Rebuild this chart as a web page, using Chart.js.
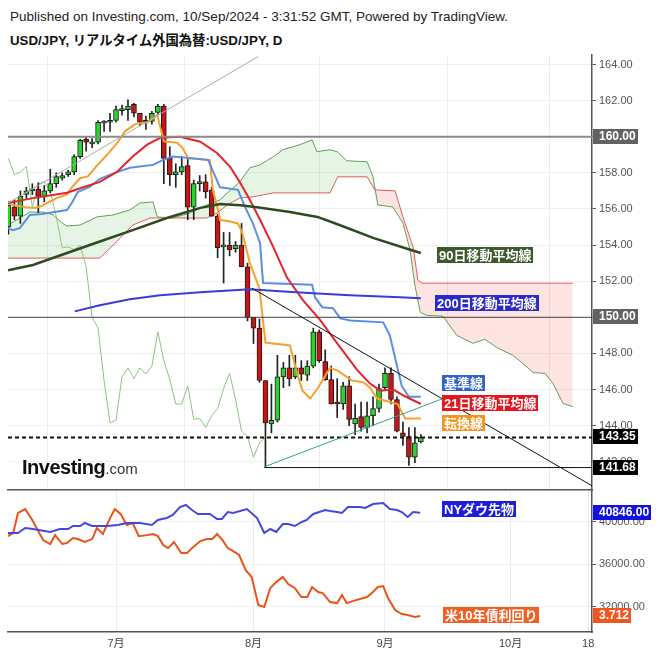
<!DOCTYPE html>
<html>
<head>
<meta charset="utf-8">
<script src="https://cdn.jsdelivr.net/npm/chart.js"></script>
<style>
body { margin: 0; background: #fff; }
#wrap { position: relative; width: 656px; height: 656px; overflow: hidden; font-family: 'Liberation Sans', 'Noto Sans CJK JP', Arial, sans-serif; }
.h1 { position: absolute; left: 10px; top: 9px; font-size: 13.5px; color: #222; white-space: nowrap; }
.h2 { position: absolute; left: 10px; top: 30px; font-size: 13.3px; font-weight: bold; color: #111; white-space: nowrap; }
canvas { position: absolute; left: 0; }
#logo { position: absolute; left: 22px; top: 456px; font-size: 20px; font-weight: bold; color: #111; letter-spacing: -0.5px; white-space: nowrap; }
#logo span { font-size: 15px; font-weight: normal; color: #333; letter-spacing: 0; }
</style>
</head>
<body>
<div id="wrap">
  <div class="h1">Published on Investing.com, 10/Sep/2024 - 3:31:52 GMT, Powered by TradingView.</div>
  <div class="h2">USD/JPY, リアルタイム外国為替:USD/JPY, D</div>
  <canvas id="main" width="656" height="491" style="top:0"></canvas>
  <canvas id="sub" width="656" height="166" style="top:490px"></canvas>
  <div id="logo">Investing<span>.com</span></div>
</div>
<script>
// x = trading days counted from 1 July 2024
const firstIdx = -18;
const dates = ['06-05','06-06','06-07','06-10','06-11','06-12','06-13','06-14','06-17','06-18','06-19','06-20','06-21','06-24','06-25','06-26','06-27','06-28',
  '07-01','07-02','07-03','07-04','07-05','07-08','07-09','07-10','07-11','07-12','07-15','07-16','07-17','07-18','07-19','07-22','07-23','07-24','07-25','07-26','07-29','07-30','07-31',
  '08-01','08-02','08-05','08-06','08-07','08-08','08-09','08-12','08-13','08-14','08-15','08-16','08-19','08-20','08-21','08-22','08-23','08-26','08-27','08-28','08-29','08-30',
  '09-02','09-03','09-04','09-05','09-06','09-09','09-10'];
const opens = [155.0,156.1,155.6,156.8,157.0,157.1,156.7,157.0,157.4,157.7,157.9,158.05,158.9,159.85,159.6,159.7,160.75,160.8,
  160.9,161.45,161.5,161.8,161.3,160.85,160.85,161.35,161.7,158.8,157.9,158.05,158.4,156.1,157.4,157.5,157.05,155.6,153.9,154.0,153.8,154.0,152.8,
  150.0,149.4,146.5,144.1,144.3,146.7,147.2,146.7,147.2,146.8,147.3,149.2,147.55,146.55,145.25,145.2,146.2,144.1,144.5,143.9,144.55,144.95,
  146.1,146.9,145.45,143.6,143.4,142.25,143.1];
const highs = [156.4,156.5,157.0,157.2,157.4,157.45,157.3,158.2,158.0,158.0,158.15,159.0,159.85,160.0,159.9,160.9,160.9,161.3,
  161.7,161.75,162.05,161.85,161.3,161.15,161.4,161.8,161.8,159.45,158.5,158.9,158.8,157.6,157.85,157.9,157.2,155.7,154.7,154.7,154.2,155.2,153.0,
  150.0,149.9,146.5,146.3,147.9,147.5,147.9,147.9,147.6,147.6,149.4,149.3,148.2,147.3,146.6,146.4,146.7,145.2,145.3,145.3,145.6,146.3,
  147.2,147.2,145.6,144.2,143.9,143.9,143.5];
const lows = [154.6,155.4,155.2,156.6,156.8,155.8,156.4,156.9,157.2,157.6,157.8,157.9,158.8,159.2,159.4,159.6,160.3,160.3,
  160.8,161.2,160.9,161.1,160.6,160.4,160.7,161.2,157.4,157.3,157.2,157.9,155.4,155.4,157.0,156.6,155.6,153.3,151.9,153.4,153.6,152.8,149.8,
  148.55,146.4,141.68,143.6,144.2,146.1,146.2,146.6,146.5,146.5,147.2,147.5,146.5,145.2,144.45,144.9,144.0,143.5,143.7,143.6,144.0,144.75,
  146.0,145.2,143.65,142.9,141.8,141.95,143.05];
const closes = [156.2,155.6,156.7,157.0,157.1,156.7,157.0,157.4,157.8,157.85,158.05,158.9,159.8,159.7,159.7,160.8,160.8,160.9,
  161.5,161.5,161.7,161.3,160.8,160.8,161.3,161.7,158.8,157.9,158.05,158.35,156.1,157.4,157.5,156.95,155.6,153.85,153.9,153.75,154.0,152.8,150.0,
  149.4,146.5,144.15,144.3,146.7,147.2,146.6,147.2,146.85,147.3,149.2,147.6,146.55,145.2,145.2,146.2,144.35,144.4,143.9,144.55,144.95,146.05,
  146.9,145.45,143.7,143.4,142.25,143.05,143.35];

// indicator lines: [trading day, value]
const tenkan = [[-18.07,156.28],[-15.2,156.1],[-13.6,156.05],[-12.4,156.17],[-11.1,156.4],[-9.9,156.6],[-8.2,156.8],[-7.4,157.2],[-6.0,157.7],[-4.7,157.8],[-3.2,158.4],[-1.5,159.0],[0.3,159.7],[1.5,160.3],[3.2,160.7],[5.2,160.8],[6.9,161.2],[8.0,159.75],[10.2,159.67],[11.1,159.4],[12.1,158.8],[12.9,158.8],[15.7,158.7],[16.2,157.05],[17.1,155.9],[17.4,155.4],[19.1,155.3],[20.4,155.2],[21.1,154.7],[22.4,153.0],[24,151.6],[25,148.6],[29.1,148.44],[30.3,146.9],[31.2,145.94],[32.5,145.5],[33.8,146.1],[35.8,147.2],[37.0,147.06],[39.5,146.5],[41.4,146.4],[42.5,146.1],[43.7,145.5],[47.1,145.2],[48.4,144.4],[51,144.4]];
const kijun = [[-18.07,154.94],[-17.3,154.83],[-16.1,154.94],[-14.4,155.67],[-12.4,155.72],[-8.2,155.94],[-7.4,156.33],[-6.4,156.94],[-4.4,157.22],[-2.7,157.67],[-0.2,158.0],[2.3,158.28],[6.2,158.44],[7.9,158.72],[9.5,158.9],[15.4,158.72],[17.4,157.2],[20.4,157.06],[21.6,156.1],[22.9,155.2],[24.1,154.1],[24.6,151.9],[32.8,151.8],[33.3,151.1],[34.5,150.56],[36.3,150.5],[37.5,149.94],[39.2,149.83],[44.7,149.72],[45.8,149.0],[46.8,147.6],[47.8,146.2],[49.0,145.6],[51,145.6]];
const ma21 = [[-18.07,156.33],[-13.9,156.6],[-8.2,156.9],[-5.5,157.2],[-2.7,157.5],[0.2,158.06],[2.8,158.9],[5.2,159.56],[7.4,159.94],[10.7,160.0],[14.1,159.72],[16.9,159.1],[19.1,158.33],[20.8,157.44],[22.4,156.5],[24.1,155.4],[26.3,153.9],[28.6,152.2],[31.3,150.94],[34.2,149.83],[37.0,148.56],[40.4,147.06],[42.5,146.33],[44.2,145.94],[46.4,146.0],[48.1,145.67],[51,145.2]];
const ma90 = [[-18.07,152.6],[-13.9,152.9],[-8.2,153.56],[-2.7,154.2],[2.8,154.83],[8.5,155.5],[14.1,156.06],[17.4,156.28],[20.8,156.2],[23.6,156.1],[29.1,155.83],[33.7,155.56],[37.5,155.1],[43.0,154.4],[48.7,153.8],[51,153.56]];
const ma200 = [[-6.9,150.33],[-2.7,150.67],[2.3,151.0],[7.4,151.22],[14.1,151.39],[22.4,151.56],[27.4,151.44],[33.0,151.33],[39.1,151.22],[47.5,151.11],[51,151.06]];
const spanA = [[-18.07,155.11],[-14.4,155.83],[-12.2,155.83],[-10.5,155.67],[-9.0,155.22],[-8.2,155.06],[-6.0,155.11],[-3.2,155.56],[-0.5,155.67],[2.3,155.94],[4.0,156.33],[6.2,156.39],[6.9,155.56],[9.5,155.5],[12.4,155.78],[15.2,156.22],[17.4,156.5],[18.6,156.89],[20.7,157.5],[22.4,158.28],[24.1,158.44],[26.3,158.89],[27.9,159.28],[30.8,159.56],[32.8,159.83],[33.6,159.17],[35.8,159.28],[37.0,159.17],[38.6,158.67],[42.0,158.61],[43.0,157.78],[43.8,156.22],[46.3,156.11],[48.0,155.22],[49.2,153.72],[50.0,151.78],[50.9,150.28],[52.0,150.11],[54.7,150.06],[57.0,149.0],[59.7,148.56],[61.7,148.78],[63.7,148.33],[66.4,147.89],[68.1,147.44],[69.8,146.94],[71.8,146.89],[73.1,146.33],[74.8,145.22],[76.4,145.06]];
const spanB = [[-18.07,153.28],[-2.7,153.28],[-1.0,153.83],[0.7,154.39],[2.8,155.11],[5.7,155.5],[15.2,155.5],[16.9,155.78],[18.6,156.22],[20.7,156.61],[22.9,156.67],[26.3,156.89],[35.8,156.89],[37.1,157.78],[42.0,157.78],[43.3,157.06],[46.7,157.0],[48.0,155.56],[49.7,153.89],[50.5,152.06],[51.2,151.89],[76.4,151.89]];
const chikouShift = 26;

// drawn lines
const greyTrend = [[-18.07,156.33],[23.8,164.44]];
const blackTrend = [[22.75,151.61],[79.63,140.67]];
const tealTrend = [[24.8,141.72],[54.7,145.5]];
const level160 = 160, level150 = 150, lastPrice = 143.35, lowLevel = 141.68;

// lower panel
const dow = [[-18.1,38936],[-16.4,38936],[-15.2,39407],[-13.9,39313],[-11.0,39031],[-9.4,39313],[-8.0,39313],[-7.2,39595],[-6.0,39595],[-5.2,39878],[-4.0,39595],[-1.5,39595],[0.3,39689],[1.8,39878],[4.0,39878],[6.0,39689],[7.0,40160],[8.5,40348],[9.5,40631],[10.7,41384],[11.7,41572],[12.7,41101],[13.7,40725],[15.7,40725],[16.9,40254],[17.7,40254],[18.7,40913],[19.6,40819],[21.9,41195],[23.6,40348],[24.8,38936],[25.8,39313],[26.8,39031],[27.9,39784],[28.8,39784],[29.9,39595],[31.1,39972],[31.9,40160],[33.0,40725],[35.0,41101],[35.8,41007],[37.0,40913],[37.8,40819],[38.8,41384],[40.8,41384],[41.7,41290],[43.0,41666],[44.7,41760],[45.8,41195],[47.0,41101],[47.8,40913],[48.8,40442],[49.7,40913],[50.9,40846]];
const us10y = [[-18.1,4.279],[-17.2,4.301],[-16.4,4.443],[-15.2,4.471],[-14.1,4.400],[-12.2,4.251],[-11.0,4.223],[-10.2,4.286],[-9.0,4.223],[-8.2,4.230],[-7.2,4.265],[-6.4,4.258],[-5.2,4.237],[-4.0,4.258],[-3.2,4.336],[-2.2,4.294],[-1.0,4.407],[-0.2,4.471],[0.8,4.435],[1.8,4.357],[2.8,4.372],[3.8,4.279],[5.2,4.286],[6.2,4.294],[7.0,4.279],[7.9,4.216],[8.7,4.194],[9.7,4.237],[10.9,4.159],[11.9,4.159],[12.9,4.201],[14.1,4.244],[15.2,4.258],[16.1,4.258],[16.9,4.294],[17.7,4.258],[18.7,4.194],[19.6,4.173],[20.6,4.145],[21.7,4.038],[22.7,3.989],[23.8,3.790],[24.8,3.776],[25.8,3.911],[26.8,3.953],[27.9,3.989],[28.8,3.939],[29.9,3.911],[31.0,3.847],[32.0,3.847],[32.8,3.918],[33.8,3.882],[34.6,3.875],[35.8,3.811],[37.0,3.804],[37.8,3.861],[38.6,3.804],[39.6,3.818],[40.8,3.833],[42.0,3.847],[42.8,3.875],[43.8,3.918],[44.7,3.925],[45.5,3.840],[46.7,3.755],[47.8,3.726],[48.8,3.719],[50.0,3.705],[50.9,3.712]];

const monthTicks = [0, 23, 45, 66, 79];
const monthLabels = ['7月', '8月', '9月', '10月', '18'];
const priceTicks = [142, 144, 146, 148, 150, 152, 154, 156, 158, 160, 162, 164];
const dowTicks = [32000, 36000, 40000];

const FONT = "'Liberation Sans', 'Noto Sans CJK JP', Arial, sans-serif";
Chart.defaults.font.family = FONT;
Chart.defaults.font.size = 11;
Chart.defaults.color = '#555';

const X_MIN = -18.07, X_MAX = 79.63;

function pts(arr) { return arr.map(p => ({ x: p[0], y: p[1] })); }
function line(data, color, width, order, extra) {
  return Object.assign({ type: 'line', data: pts(data), borderColor: color, borderWidth: width,
    pointRadius: 0, tension: 0, fill: false, order: order }, extra || {});
}
// keep the plot area where the layout padding puts it
function noPad(s) { s.paddingTop = 0; s.paddingBottom = 0; s.paddingLeft = 0; s.paddingRight = 0; }

// draws the coloured name tags and the price boxes
const tagsPlugin = {
  id: 'tags',
  afterDraw(chart, args, opts) {
    const ctx = chart.ctx;
    ctx.save();
    ctx.textBaseline = 'middle';
    (opts.inner || []).forEach(t => {
      const x = Math.round(chart.scales.x.getPixelForValue(t.at));
      const y = Math.round(chart.scales[t.axis].getPixelForValue(t.value));
      ctx.font = 'bold 13px ' + FONT;
      const w = Math.round(ctx.measureText(t.text).width + 4);
      ctx.fillStyle = t.bg;
      ctx.fillRect(x, y - 8, w, 16);
      ctx.fillStyle = '#fff';
      ctx.fillText(t.text, x + 2, y + 1);
    });
    (opts.right || []).forEach(t => {
      const x = chart.chartArea.right + 1;
      const y = Math.round(chart.scales[t.axis].getPixelForValue(t.value));
      ctx.font = 'bold 12px ' + FONT;
      const w = Math.round(ctx.measureText(t.text).width + 8);
      ctx.fillStyle = t.bg;
      ctx.fillRect(x, y - 8, w, 15);
      ctx.fillStyle = '#fff';
      ctx.fillText(t.text, x + 6, y);
    });
    ctx.restore();
  }
};

const idx = closes.map((c, k) => firstIdx + k);
const candleCols = closes.map((c, k) => c >= opens[k] ? '#2bd22b' : '#c91414');
const chikou = [];
closes.forEach((c, k) => { if (idx[k] - chikouShift >= firstIdx) chikou.push([idx[k] - chikouShift, c]); });

const xMain = {
  type: 'linear', min: X_MIN, max: X_MAX, offset: false,
  afterBuildTicks: s => { s.ticks = monthTicks.map(v => ({ value: v })); },
  ticks: { display: false },
  grid: { color: '#ececec', drawTicks: false },
  border: { display: true, color: '#555', width: 1.5 },
  afterFit: s => { s.height = 0; noPad(s); }
};

new Chart(document.getElementById('main'), {
  type: 'line',
  data: {
    datasets: [
      line(spanB, '#d9605c', 1, 6),
      line(spanA, '#5fa152', 1, 6, { fill: { target: 0, above: 'rgba(76,175,80,0.14)', below: 'rgba(244,67,54,0.15)' } }),
      line(chikou, '#8cc57c', 1, 5),
      { type: 'bar', data: idx.map((x, k) => ({ x: x, y: [lows[k], highs[k]] })), backgroundColor: '#222',
        barThickness: 1, grouped: false, order: 4 },
      { type: 'bar', data: idx.map((x, k) => ({ x: x, y: [opens[k], closes[k]] })), backgroundColor: candleCols,
        borderColor: '#1b1b1b', borderWidth: 1, borderSkipped: false, barThickness: 5, minBarLength: 2,
        grouped: false, order: 3 },
      line(ma200, '#3b3bdb', 2, 2),
      line(ma90, '#2e4b1f', 2.5, 2),
      line(ma21, '#e3242b', 2, 2),
      line(kijun, '#5b8fe4', 2, 2),
      line(tenkan, '#f6a030', 2, 2),
      line(greyTrend, '#aaaaaa', 1, 1),
      line(blackTrend, '#111', 1, 1),
      line(tealTrend, '#3a9f94', 1, 1),
      line([[X_MIN, level160], [X_MAX, level160]], '#8a8a8a', 2, 1),
      line([[X_MIN, level150], [X_MAX, level150]], '#444', 1, 1),
      line([[X_MIN, lastPrice], [X_MAX, lastPrice]], '#111', 2, 1, { borderDash: [4, 3] }),
      line([[24.8, lowLevel], [X_MAX, lowLevel]], '#111', 1, 1)
    ]
  },
  options: {
    responsive: false, animation: false, events: [],
    layout: { padding: { left: 8, top: 55, right: 0, bottom: 1 } },
    scales: {
      x: xMain,
      y: {
        position: 'right', min: 140.437, max: 164.526,
        afterBuildTicks: s => { s.ticks = priceTicks.map(v => ({ value: v })); },
        ticks: { callback: v => v.toFixed(2), padding: 3, color: '#555' },
        grid: { color: '#efefef', tickLength: 4, tickColor: '#555' },
        border: { color: '#555', width: 1.5 },
        afterFit: s => { s.width = 64; noPad(s); }
      }
    },
    plugins: {
      legend: { display: false }, tooltip: { enabled: false },
      filler: { drawTime: 'beforeDatasetsDraw' },
      tags: {
        inner: [
          { text: '90日移動平均線', at: 53.7, value: 153.45, axis: 'y', bg: '#3c5a2b' },
          { text: '200日移動平均線', at: 53.4, value: 150.82, axis: 'y', bg: '#2b2bc9' },
          { text: '基準線', at: 54.5, value: 146.39, axis: 'y', bg: '#3162c8' },
          { text: '21日移動平均線', at: 54.5, value: 145.23, axis: 'y', bg: '#e3171f' },
          { text: '転換線', at: 54.5, value: 144.15, axis: 'y', bg: '#f5931f' }
        ],
        right: [
          { text: level160.toFixed(2), value: level160, axis: 'y', bg: '#626262' },
          { text: level150.toFixed(2), value: level150, axis: 'y', bg: '#626262' },
          { text: lastPrice.toFixed(2), value: lastPrice, axis: 'y', bg: '#000' },
          { text: lowLevel.toFixed(2), value: lowLevel, axis: 'y', bg: '#000' }
        ]
      }
    }
  },
  plugins: [tagsPlugin]
});

const lastDow = dow[dow.length - 1][1];
const lastYield = us10y[us10y.length - 1][1];

new Chart(document.getElementById('sub'), {
  type: 'line',
  data: {
    datasets: [
      line(dow, '#4747e0', 2, 1, { yAxisID: 'yDow' }),
      line(us10y, '#e8541c', 2, 1, { yAxisID: 'yY' })
    ]
  },
  options: {
    responsive: false, animation: false, events: [],
    layout: { padding: { left: 8, top: 1, right: 0, bottom: 0 } },
    scales: {
      x: Object.assign({}, xMain, {
        ticks: { display: true, padding: 5, color: '#444', autoSkip: false, maxRotation: 0,
          callback: v => monthLabels[monthTicks.indexOf(v)] },
        afterFit: s => { s.height = 24; noPad(s); }
      }),
      yDow: {
        position: 'right', min: 29619, max: 42889,
        afterBuildTicks: s => { s.ticks = dowTicks.map(v => ({ value: v })); },
        ticks: { callback: v => v.toFixed(2), padding: 3, color: '#555' },
        grid: { color: '#efefef', tickLength: 4, tickColor: '#555' },
        border: { color: '#555', width: 1.5 },
        afterFit: s => { s.width = 64; noPad(s); }
      },
      yY: { display: false, min: 3.599, max: 4.599 }
    },
    plugins: {
      legend: { display: false }, tooltip: { enabled: false },
      tags: {
        inner: [
          { text: 'NYダウ先物', at: 54.5, value: 41148, axis: 'yDow', bg: '#1d1de0' },
          { text: '米10年債利回り', at: 54.7, value: 3.723, axis: 'yY', bg: '#f05f23' }
        ],
        right: [
          { text: lastDow.toFixed(2), value: lastDow, axis: 'yDow', bg: '#1212dd' },
          { text: lastYield.toFixed(3), value: lastYield, axis: 'yY', bg: '#f0561f' }
        ]
      }
    }
  },
  plugins: [tagsPlugin]
});
</script>
</body>
</html>
